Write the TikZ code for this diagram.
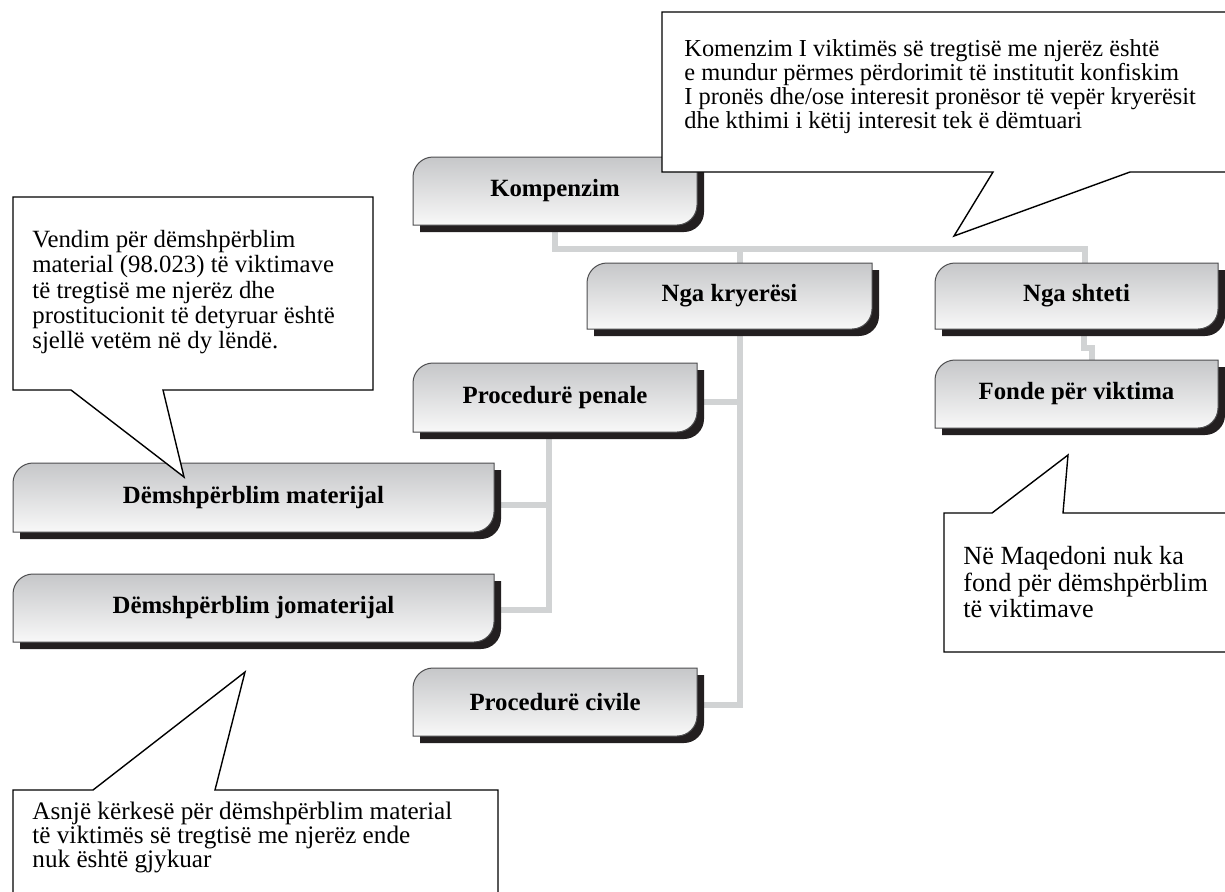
\documentclass[tikz,border=0pt]{standalone}
\usepackage{fontspec}
\setmainfont{Liberation Serif}
\usepackage{xcolor}
\usepackage{tikz}
\usetikzlibrary{backgrounds}

\definecolor{hijezi}{HTML}{231F20}
\definecolor{lidhje}{HTML}{D1D3D4}
\definecolor{kutisiper}{HTML}{C6C7C9}
\definecolor{kutiposht}{HTML}{F8F8F8}
\definecolor{vija}{HTML}{4D4D4F}

% kuti me hije: emri, majtas, lart, djathtas, poshte, teksti
\newcommand{\kutia}[6]{%
  \fill[hija] (#2+7,#5+7) -- (#2+7,#3+7) -- (#4+7,#3+7) -- (#4+7,#5-13)
    .. controls (#4+7,#5-2) and (#4-2,#5+7) .. (#4-13,#5+7) -- cycle;
  \shade[kuti] (#2,#5) -- (#2,#3+20) .. controls (#2,#3+9) and (#2+9,#3) .. (#2+20,#3)
    -- (#4,#3) -- (#4,#5-20) .. controls (#4,#5-9) and (#4-9,#5) .. (#4-20,#5) -- cycle;
  \node[etiketa, minimum width={(#4-#2)*0.5pt}, minimum height={(#5-#3)*0.5pt}]
    (#1) at ({(#2+#4)/2},{(#3+#5)/2}) {#6};
}

\begin{document}
\begin{tikzpicture}[x=0.5pt, y=-0.5pt,
    hija/.style={fill=hijezi},
    kuti/.style={top color=kutisiper, bottom color=kutiposht, draw=vija, line width=0.5pt},
    etiketa/.style={inner sep=0pt, font=\bfseries\fontsize{12.4}{14}\selectfont},
    lidh/.style={draw=lidhje, line width=3pt},
    shenim/.style={draw=black, fill=white, line width=0.7pt},
    tekst/.style={inner sep=0pt, anchor=north west, align=left}]
    \useasboundingbox (0,0) rectangle (1225,891);
    \clip (0,0) rectangle (1225,891);

    \kutia{komp}{413}{157}{697}{225}{Kompenzim}
    \kutia{kryer}{587}{263}{872}{329}{Nga kryerësi}
    \kutia{shtet}{935}{263}{1218}{329}{Nga shteti}
    \kutia{fonde}{935}{360}{1218}{428}{Fonde për viktima}
    \kutia{penal}{413}{363}{697}{432}{Procedurë penale}
    \kutia{civil}{413}{668}{697}{736}{Procedurë civile}
    \kutia{mat}{13}{463}{494}{532}{Dëmshpërblim materijal}
    \kutia{jomat}{13}{574}{494}{642}{Dëmshpërblim jomaterijal}

    \begin{scope}[on background layer]
        \draw[lidh] (komp.south) -- ++(0,24) coordinate (nyja)
            -| ([xshift=5.25pt]kryer.north);
        \draw[lidh] (nyja) -| ([xshift=4.25pt]shtet.north);
        \draw[lidh] ([xshift=5.25pt]kryer.south) |- ([yshift=-1.5pt]civil.east);
        \draw[lidh] ([yshift=-2.25pt]penal.east) -| ([xshift=5.25pt]kryer.south);
        \draw[lidh] ([xshift=-3pt]penal.south) |- ([yshift=-1pt]jomat.east);
        \draw[lidh] ([yshift=-3.75pt]mat.east) -| ([xshift=-3pt]penal.south);
        \draw[lidh] ([xshift=3.75pt]shtet.south) -- ++(0,19)
            -| ([xshift=7.5pt]fonde.north);
    \end{scope}

    \filldraw[shenim] (662,12) -- (1240,12) -- (1240,172) -- (1130,172)
        -- (954,236) -- (993,172) -- (662,172) -- cycle;
    \node[tekst, font=\fontsize{12.2}{12}\selectfont] (shenimA) at (684,39)
        {Komenzim I viktimës së tregtisë me njerëz është\\
         e mundur përmes përdorimit të institutit konfiskim\\
         I pronës dhe/ose interesit pronësor të vepër kryerësit\\
         dhe kthimi i këtij interesit tek ë dëmtuari};

    \filldraw[shenim] (13,197) -- (373,197) -- (373,390) -- (163,390)
        -- (184,477) -- (71,390) -- (13,390) -- cycle;
    \node[tekst, font=\fontsize{12.4}{12.6}\selectfont] (shenimB) at (32,230)
        {Vendim për dëmshpërblim\\
         material (98.023) të viktimave\\
         të tregtisë me njerëz dhe\\
         prostitucionit të detyruar është\\
         sjellë vetëm në dy lëndë.};

    \filldraw[shenim] (13,900) -- (13,790) -- (93,790) -- (245,672)
        -- (215,790) -- (498,790) -- (498,900) -- cycle;
    \node[tekst, font=\fontsize{12.6}{11.8}\selectfont] (shenimC) at (32,802)
        {Asnjë kërkesë për dëmshpërblim material\\
         të viktimës së tregtisë me njerëz ende\\
         nuk është gjykuar};

    \filldraw[shenim] (944,513) -- (992,513) -- (1068,455) -- (1063,513)
        -- (1240,513) -- (1240,652) -- (944,652) -- cycle;
    \node[tekst, font=\fontsize{13.1}{13.3}\selectfont] (shenimD) at (963,546)
        {Në Maqedoni nuk ka\\
         fond për dëmshpërblim\\
         të viktimave};
\end{tikzpicture}
\end{document}
